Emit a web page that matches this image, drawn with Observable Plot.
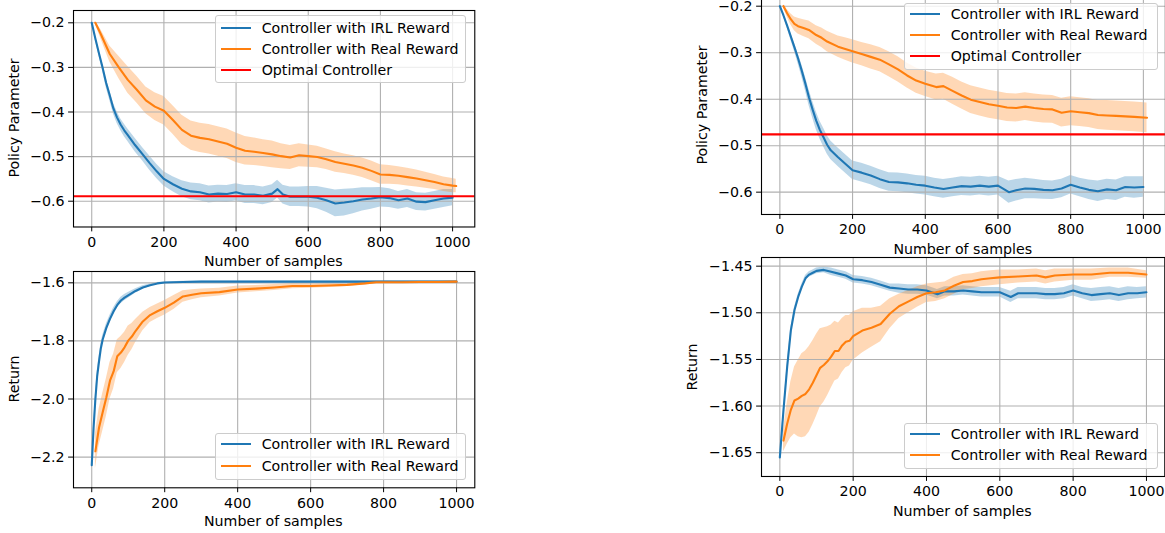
<!DOCTYPE html>
<html>
<head>
<meta charset="utf-8">
<script src="https://cdn.jsdelivr.net/npm/d3@7"></script>
<script src="https://cdn.jsdelivr.net/npm/@observablehq/plot@0.6"></script>
<style>
html,body{margin:0;padding:0;background:#fff;}
#root{position:relative;width:1165px;height:533px;overflow:hidden;font-family:"DejaVu Sans";font-size:14.2px;color:#000;background:#fff;}
.panel{position:absolute;}
.lab{position:absolute;white-space:nowrap;line-height:16px;transform:translateX(-50%);}
.ylab{position:absolute;white-space:nowrap;line-height:16px;transform:translate(-50%,-50%) rotate(-90deg);}
.legend{position:absolute;box-sizing:border-box;border:1px solid #cccccc;border-radius:3px;background:rgba(255,255,255,0.8);}
.lgline{position:absolute;height:2.1px;}
.lgtext{position:absolute;white-space:nowrap;line-height:16px;}
</style>
</head>
<body>
<div id="root"></div>
<script>
// ---------- shared ticks ----------
const xTicks = [0, 200, 400, 600, 800, 1000];
const paramTicks = [-0.2, -0.3, -0.4, -0.5, -0.6];
const returnTicksA = [-1.6, -1.8, -2.0, -2.2];
const returnTicksB = [-1.45, -1.50, -1.55, -1.60, -1.65];
const seriesNames = ["Controller with IRL Reward", "Controller with Real Reward", "Optimal Controller"];

// ---------- panel 1 : policy parameter (left) ----------
const p1IrlX = [0,10,20,30,40,50,60,70,80,90,100,120,140,160,180,200,225,250,275,300,325,350,375,400,425,450,475,500,515,530,550,575,600,625,650,675,700,725,750,775,800,825,850,875,900,925,950,975,1000];
const p1IrlMean = [-0.200,-0.235,-0.268,-0.300,-0.335,-0.363,-0.392,-0.412,-0.428,-0.441,-0.452,-0.474,-0.494,-0.514,-0.533,-0.550,-0.562,-0.572,-0.578,-0.580,-0.585,-0.583,-0.584,-0.580,-0.585,-0.585,-0.588,-0.583,-0.573,-0.585,-0.590,-0.590,-0.590,-0.592,-0.598,-0.605,-0.603,-0.600,-0.596,-0.594,-0.591,-0.593,-0.598,-0.594,-0.601,-0.602,-0.598,-0.594,-0.592];
const p1IrlSd = [0,0.004,0.006,0.008,0.010,0.011,0.012,0.013,0.013,0.014,0.014,0.015,0.015,0.016,0.016,0.016,0.017,0.018,0.019,0.019,0.019,0.019,0.019,0.019,0.020,0.020,0.020,0.020,0.020,0.021,0.022,0.022,0.023,0.025,0.027,0.030,0.030,0.028,0.026,0.024,0.022,0.021,0.020,0.020,0.020,0.020,0.020,0.020,0.018];
const p1RealX = [10,25,50,75,100,125,150,175,200,225,250,275,300,325,350,375,400,425,450,475,500,525,550,575,600,625,650,675,700,725,750,775,800,825,850,875,900,925,950,975,1000,1010];
const p1RealMean = [-0.200,-0.225,-0.270,-0.300,-0.328,-0.350,-0.374,-0.388,-0.397,-0.418,-0.440,-0.453,-0.458,-0.461,-0.466,-0.471,-0.480,-0.487,-0.489,-0.492,-0.495,-0.499,-0.502,-0.497,-0.499,-0.501,-0.506,-0.512,-0.516,-0.520,-0.525,-0.532,-0.540,-0.541,-0.543,-0.546,-0.549,-0.553,-0.557,-0.562,-0.565,-0.566];
const p1RealSd = [0.003,0.010,0.018,0.025,0.030,0.030,0.030,0.031,0.032,0.032,0.033,0.033,0.033,0.033,0.033,0.033,0.033,0.032,0.031,0.030,0.030,0.028,0.027,0.026,0.025,0.024,0.023,0.023,0.022,0.022,0.022,0.022,0.022,0.021,0.020,0.020,0.019,0.018,0.017,0.016,0.016,0.015];
const p1Optimal = -0.589;

// ---------- panel 2 : policy parameter (right) ----------
const p2IrlX = [0,10,20,30,40,50,60,70,80,90,100,110,120,130,140,160,180,200,225,250,275,300,325,350,375,400,425,450,475,500,525,550,575,600,630,650,675,700,725,750,775,800,825,850,875,900,925,950,975,1000];
const p2IrlMean = [-0.200,-0.220,-0.242,-0.265,-0.288,-0.312,-0.338,-0.366,-0.396,-0.422,-0.446,-0.466,-0.482,-0.498,-0.510,-0.525,-0.539,-0.553,-0.558,-0.564,-0.572,-0.578,-0.579,-0.581,-0.584,-0.586,-0.590,-0.593,-0.590,-0.587,-0.588,-0.586,-0.588,-0.586,-0.600,-0.596,-0.592,-0.593,-0.595,-0.596,-0.592,-0.584,-0.590,-0.595,-0.598,-0.594,-0.596,-0.589,-0.590,-0.589];
const p2IrlSd = [0,0.003,0.005,0.007,0.009,0.011,0.013,0.015,0.017,0.018,0.019,0.019,0.020,0.020,0.020,0.020,0.020,0.020,0.020,0.020,0.020,0.020,0.020,0.020,0.020,0.020,0.020,0.020,0.020,0.020,0.020,0.020,0.020,0.020,0.024,0.023,0.022,0.021,0.020,0.020,0.020,0.020,0.020,0.021,0.022,0.022,0.022,0.022,0.023,0.022];
const p2RealX = [10,20,30,40,50,65,80,100,115,130,160,180,200,225,250,275,300,325,350,375,400,430,450,475,500,525,550,575,600,625,650,675,700,725,750,775,800,825,850,875,900,925,950,975,1010];
const p2RealMean = [-0.200,-0.215,-0.228,-0.238,-0.243,-0.247,-0.251,-0.262,-0.268,-0.276,-0.287,-0.292,-0.297,-0.303,-0.309,-0.315,-0.325,-0.336,-0.349,-0.360,-0.367,-0.374,-0.372,-0.382,-0.392,-0.401,-0.406,-0.411,-0.414,-0.418,-0.419,-0.416,-0.419,-0.421,-0.422,-0.429,-0.426,-0.428,-0.430,-0.434,-0.435,-0.436,-0.437,-0.438,-0.440];
const p2RealSd = [0.003,0.008,0.012,0.015,0.017,0.018,0.019,0.020,0.021,0.022,0.023,0.024,0.025,0.025,0.026,0.026,0.027,0.027,0.027,0.027,0.027,0.028,0.028,0.029,0.029,0.030,0.030,0.030,0.030,0.030,0.030,0.030,0.030,0.030,0.030,0.031,0.031,0.031,0.031,0.031,0.032,0.032,0.032,0.032,0.032];
const p2Optimal = -0.4757;

// ---------- panel 3 : return (left) ----------
const p3IrlX = [0,5,10,15,20,25,30,40,50,60,70,80,90,100,120,140,160,180,200,250,300,400,500,600,700,800,900,1000];
const p3IrlMean = [-2.228,-2.100,-2.000,-1.920,-1.870,-1.825,-1.795,-1.755,-1.724,-1.698,-1.676,-1.661,-1.651,-1.643,-1.628,-1.616,-1.608,-1.602,-1.599,-1.597,-1.596,-1.596,-1.596,-1.596,-1.596,-1.596,-1.596,-1.596];
const p3IrlSd = [0.003,0.010,0.015,0.015,0.015,0.015,0.014,0.013,0.012,0.012,0.011,0.011,0.011,0.010,0.008,0.006,0.004,0.003,0.002,0.002,0.002,0.002,0.002,0.002,0.002,0.002,0.002,0.002];
const p3RealX = [10,20,30,40,50,60,70,80,90,100,110,120,140,160,180,200,225,250,275,300,350,400,450,500,550,600,650,700,750,780,800,850,900,950,1000];
const p3RealMean = [-2.180,-2.098,-2.046,-1.995,-1.937,-1.905,-1.853,-1.840,-1.822,-1.799,-1.785,-1.766,-1.733,-1.711,-1.698,-1.686,-1.668,-1.647,-1.641,-1.636,-1.632,-1.623,-1.620,-1.616,-1.611,-1.611,-1.609,-1.607,-1.602,-1.598,-1.598,-1.598,-1.597,-1.597,-1.596];
const p3RealSd = [0.060,0.063,0.065,0.065,0.063,0.060,0.057,0.055,0.052,0.050,0.045,0.040,0.032,0.026,0.025,0.025,0.024,0.020,0.017,0.015,0.013,0.012,0.011,0.010,0.009,0.008,0.007,0.006,0.005,0.004,0.004,0.003,0.003,0.003,0.003];

// ---------- panel 4 : return (right) ----------
const p4IrlX = [0,10,20,30,40,50,60,70,80,90,100,120,140,160,180,200,225,250,275,300,325,350,375,400,430,450,475,500,525,550,575,600,630,650,675,700,725,750,775,800,825,850,875,900,925,950,975,1000];
const p4IrlMean = [-1.655,-1.604,-1.558,-1.519,-1.497,-1.483,-1.472,-1.463,-1.459,-1.457,-1.455,-1.454,-1.456,-1.458,-1.460,-1.464,-1.465,-1.467,-1.470,-1.473,-1.474,-1.475,-1.475,-1.476,-1.480,-1.477,-1.477,-1.476,-1.477,-1.478,-1.478,-1.478,-1.483,-1.479,-1.479,-1.479,-1.480,-1.480,-1.479,-1.476,-1.479,-1.481,-1.480,-1.479,-1.481,-1.479,-1.479,-1.478];
const p4IrlSd = [0.001,0.002,0.003,0.003,0.003,0.003,0.003,0.003,0.003,0.003,0.003,0.003,0.004,0.004,0.004,0.004,0.004,0.004,0.004,0.004,0.005,0.005,0.005,0.005,0.005,0.005,0.005,0.005,0.005,0.005,0.005,0.005,0.006,0.006,0.006,0.006,0.006,0.006,0.006,0.006,0.006,0.007,0.007,0.007,0.007,0.007,0.006,0.006];
const p4RealX = [10,20,30,40,50,60,70,80,90,100,110,120,130,140,150,160,170,180,190,200,225,250,275,300,325,350,375,400,425,450,475,500,525,550,575,600,650,700,725,750,800,850,900,950,1000];
const p4RealMean = [-1.637,-1.619,-1.604,-1.594,-1.592,-1.589,-1.587,-1.582,-1.575,-1.567,-1.559,-1.556,-1.552,-1.547,-1.541,-1.541,-1.535,-1.531,-1.530,-1.525,-1.519,-1.516,-1.512,-1.501,-1.493,-1.488,-1.483,-1.479,-1.478,-1.476,-1.471,-1.467,-1.466,-1.464,-1.463,-1.462,-1.461,-1.460,-1.462,-1.460,-1.459,-1.459,-1.457,-1.457,-1.459];
const p4RealSd = [0.012,0.022,0.030,0.036,0.041,0.045,0.046,0.046,0.045,0.044,0.042,0.040,0.037,0.034,0.032,0.030,0.029,0.028,0.027,0.026,0.024,0.021,0.019,0.016,0.013,0.012,0.011,0.010,0.010,0.009,0.009,0.008,0.008,0.008,0.008,0.008,0.007,0.007,0.007,0.007,0.006,0.006,0.005,0.005,0.004];

// ---------- helpers ----------
const BLUE = "#1f77b4", ORANGE = "#ff7f0e", RED = "#ff0000";
function rows(xs, means, sds) {
  const n = Math.min(xs.length, means.length, sds.length);
  return d3.range(n).map(i => ({x: xs[i], y: means[i], lo: means[i] - sds[i], hi: means[i] + sds[i]}));
}
const root = document.getElementById("root");
function addDiv(cls, text, styles) {
  const d = document.createElement("div");
  d.className = cls;
  if (text != null) d.textContent = text;
  Object.assign(d.style, styles);
  root.appendChild(d);
  return d;
}

function panel(cfg) {
  const mL = 75, mR = 5, mT = 10, mB = 30;
  const f = cfg.frame;
  const w = (f.r - f.l) + mL + mR;
  const h = (f.b - f.t) + mT + mB;
  const marks = [];
  for (const s of cfg.series) marks.push(Plot.areaY(s.data, {x: "x", y1: "lo", y2: "hi", fill: s.color, fillOpacity: 0.3}));
  marks.push(Plot.ruleX(xTicks, {stroke: "#b0b0b0", strokeWidth: 1.1}));
  marks.push(Plot.ruleY(cfg.yTicks, {stroke: "#b0b0b0", strokeWidth: 1.1}));
  for (const s of cfg.series) marks.push(Plot.line(s.data, {x: "x", y: "y", stroke: s.color, strokeWidth: 2.1}));
  if (cfg.optimal != null) marks.push(Plot.ruleY([cfg.optimal], {stroke: RED, strokeWidth: 2.1}));
  marks.push(Plot.frame({stroke: "black", strokeWidth: 1.1}));
  const svg = Plot.plot({
    width: w, height: h,
    marginLeft: mL, marginRight: mR, marginTop: mT, marginBottom: mB,
    x: {domain: cfg.xDomain, ticks: xTicks, tickFormat: d => String(d), tickSize: 4.9, tickPadding: 5, label: null},
    y: {domain: cfg.yDomain, ticks: cfg.yTicks, tickFormat: cfg.fmt, tickSize: 4.9, tickPadding: 4, label: null},
    style: {fontFamily: "DejaVu Sans", fontSize: "14.2px", background: "transparent", overflow: "visible", color: "black"},
    marks
  });
  const holder = addDiv("panel", null, {left: (f.l - mL) + "px", top: (f.t - mT) + "px", width: w + "px", height: h + "px"});
  holder.appendChild(svg);
  // axis titles
  addDiv("lab", "Number of samples", {left: ((f.l + f.r) / 2) + "px", top: (cfg.xTitleY - 9.5) + "px"});
  addDiv("ylab", cfg.yTitle, {left: (cfg.yTitleX - 1) + "px", top: ((f.t + f.b) / 2) + "px"});
  // legend
  const L = cfg.legend;
  const box = addDiv("legend", null, {left: L.l + "px", top: L.t + "px", width: L.w + "px", height: L.h + "px"});
  L.rows.forEach((ry, i) => {
    const color = [BLUE, ORANGE, RED][i];
    const ln = document.createElement("div");
    ln.className = "lgline";
    Object.assign(ln.style, {left: "5px", width: "30px", top: (ry - L.t - 1 - 1.05) + "px", background: color});
    box.appendChild(ln);
    const tx = document.createElement("div");
    tx.className = "lgtext";
    tx.textContent = seriesNames[i];
    Object.assign(tx.style, {left: "45.7px", top: (ry - L.t - 1 - 8) + "px"});
    box.appendChild(tx);
  });
}

const minus = s => s.replace("-", "\u2212");
const fmt1 = d => minus(d3.format(".1f")(d)), fmt2 = d => minus(d3.format(".2f")(d));

panel({
  frame: {l: 72.7, r: 474, t: 10, b: 226.5},
  xDomain: [-50.5, 1061.5], yDomain: [-0.6578, -0.1724], yTicks: paramTicks, fmt: fmt1,
  series: [{data: rows(p1IrlX, p1IrlMean, p1IrlSd), color: BLUE}, {data: rows(p1RealX, p1RealMean, p1RealSd), color: ORANGE}],
  optimal: p1Optimal, yTitle: "Policy Parameter", yTitleX: 15, xTitleY: 262.5,
  legend: {l: 215, t: 15, w: 251, h: 68.3, rows: [28.3, 49.3, 70.3]}
});
panel({
  frame: {l: 760.8, r: 1164.7, t: -5, b: 214},
  xDomain: [-50.5, 1060.5], yDomain: [-0.648, -0.177], yTicks: paramTicks, fmt: fmt1,
  series: [{data: rows(p2IrlX, p2IrlMean, p2IrlSd), color: BLUE}, {data: rows(p2RealX, p2RealMean, p2RealSd), color: ORANGE}],
  optimal: p2Optimal, yTitle: "Policy Parameter", yTitleX: 703.3, xTitleY: 250,
  legend: {l: 904, t: 2.7, w: 254, h: 67.3, rows: [14.3, 35, 56]}
});
panel({
  frame: {l: 72.7, r: 474, t: 270.7, b: 487},
  xDomain: [-50, 1050], yDomain: [-2.3057, -1.561], yTicks: returnTicksA, fmt: fmt1,
  series: [{data: rows(p3IrlX, p3IrlMean, p3IrlSd), color: BLUE}, {data: rows(p3RealX, p3RealMean, p3RealSd), color: ORANGE}],
  optimal: null, yTitle: "Return", yTitleX: 15, xTitleY: 522.8,
  legend: {l: 215, t: 433.3, w: 251, h: 46.7, rows: [444.3, 465.7]}
});
panel({
  frame: {l: 760.7, r: 1164, t: 257.3, b: 476.3},
  xDomain: [-50, 1050], yDomain: [-1.6755, -1.4407], yTicks: returnTicksB, fmt: fmt2,
  series: [{data: rows(p4IrlX, p4IrlMean, p4IrlSd), color: BLUE}, {data: rows(p4RealX, p4RealMean, p4RealSd), color: ORANGE}],
  optimal: null, yTitle: "Return", yTitleX: 692.7, xTitleY: 512.8,
  legend: {l: 904, t: 422.7, w: 254, h: 46.3, rows: [434, 455]}
});
</script>
</body>
</html>
